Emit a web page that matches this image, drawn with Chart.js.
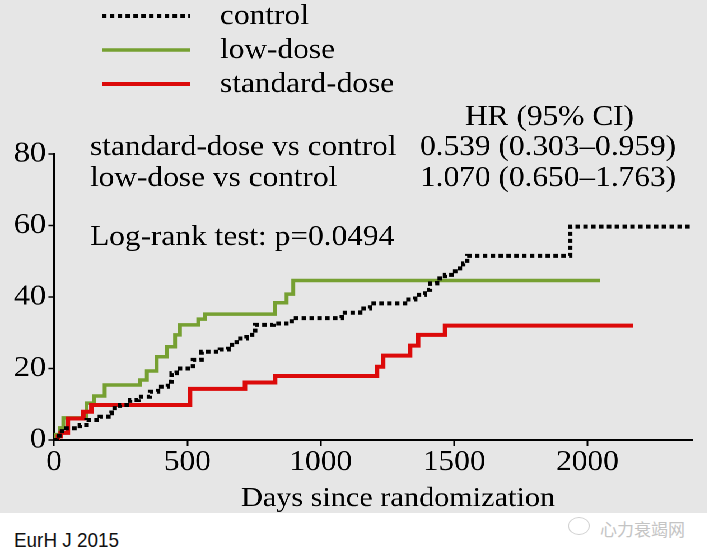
<!DOCTYPE html>
<html><head><meta charset="utf-8">
<script src="https://cdn.jsdelivr.net/npm/chart.js@4"></script>
<style>
html,body{margin:0;padding:0;background:#fff;}
#page{position:relative;width:707px;height:558px;overflow:hidden;background:#fff;}
#wrap{position:absolute;left:0;top:0;width:631.25px;height:513px;transform:scaleX(1.12);transform-origin:0 0;background:#e6e6e6;}
#src{position:absolute;left:14px;top:528px;font:21px "Liberation Sans",Arial,sans-serif;color:#111;transform:scaleX(0.9);transform-origin:0 0;}
#wm{position:absolute;left:600px;top:516px;font:17px "Noto Sans CJK SC",sans-serif;color:#c4c4c4;}
#wmi{position:absolute;left:568px;top:517px;width:20px;height:16px;border:1px solid #d0d0d0;border-radius:50%;}
</style></head>
<body>
<div id="page">
<div id="wrap"><canvas id="c"></canvas></div>
<div id="wmi"></div>
<div id="wm">心力衰竭网</div>
<div id="src">EurH J 2015</div>
</div>
<script>
// ---- data (days, cumulative %) ----
const controlDays = [0,10,30,97,122,172,204,216,247,285,316,360,390,427,441,460,521,553,622,654,685,722,754,822,891,1079,1148,1185,1316,1354,1391,1410,1436,1466,1504,1534,1549,1935,2392];
const controlVals = [0,1.2,3.3,4.2,5.6,6.5,7.5,8.9,9.8,11.2,12.1,13.5,14.9,16.3,18.7,20.0,22.4,24.7,25.3,26.6,28.4,29.4,32.2,32.6,34.1,35.6,36.8,38.2,39.3,40.6,42.0,43.8,45.2,46.2,48.0,49.4,51.5,59.7,59.7];
const lowDays = [0,5,22,35,122,150,190,322,348,385,423,454,472,541,566,829,872,897,2047];
const lowVals = [0,1.5,3.4,6.2,10.3,12.3,15.4,16.8,19.3,23.3,26.1,29.4,32.2,33.8,35.2,38.4,40.8,44.6,44.6];
const stdDays = [0,15,25,52,110,140,510,716,829,1211,1234,1335,1365,1466,2171];
const stdVals = [0,1,2,6,7.9,9.8,14.3,16.1,17.9,20.5,23.6,26.4,29.4,32.0,32.0];
const xTicks = [0,500,1000,1500,2000];
const yTicks = [0,20,40,60,80];
const seriesLabels = ['control','low-dose','standard-dose'];
const xTitle = 'Days since randomization';
const hrHeader = 'HR (95% CI)';
const hrRows = [['standard-dose vs control','0.539 (0.303\u20130.959)'],['low-dose vs control','1.070 (0.650\u20131.763)']];
const logRank = 'Log-rank test: p=0.0494';

const pts = (d,v)=>d.map((x,i)=>({x:x,y:v[i]}));
const K = 1.12;
const serif = "'Liberation Serif', 'Times New Roman', serif";

const extras = {
  id:'extras',
  afterDraw(chart){
    const ctx = chart.ctx;
    ctx.save();
    ctx.fillStyle = '#000';
    ctx.textBaseline = 'alphabetic';
    // legend
    const rows = [24,58,92];
    chart.data.datasets.forEach((ds,i)=>{
      const y = rows[i]-8;
      ctx.beginPath();
      ctx.strokeStyle = ds.borderColor;
      ctx.lineWidth = ds.borderWidth;
      ctx.setLineDash(ds.borderDash || []);
      ctx.moveTo(102/K,y); ctx.lineTo(190/K,y); ctx.stroke();
      ctx.setLineDash([]);
      ctx.font = '28px '+serif;
      ctx.fillStyle = '#000';
      ctx.textAlign = 'left';
      ctx.fillText(ds.label, 220/K, rows[i]);
    });
    // HR table
    ctx.font = '28px '+serif;
    ctx.fillText(hrHeader, 465/K, 125);
    ctx.fillText(hrRows[0][0], 90/K, 155);
    ctx.fillText(hrRows[0][1], 420/K, 155);
    ctx.fillText(hrRows[1][0], 90/K, 186);
    ctx.fillText(hrRows[1][1], 420/K, 186);
    ctx.fillText(logRank, 90/K, 245);
    // x title
    ctx.font = '27px '+serif;
    ctx.fillText(xTitle, 241/K, 506);
    ctx.restore();
  }
};

new Chart(document.getElementById('c'), {
  type:'line',
  data:{datasets:[
    {label:seriesLabels[0], data:pts(controlDays,controlVals), borderColor:'#000', borderWidth:4, borderDash:[4,3], order:0},
    {label:seriesLabels[1], data:pts(lowDays,lowVals), borderColor:'#76a032', borderWidth:3.5, order:2},
    {label:seriesLabels[2], data:pts(stdDays,stdVals), borderColor:'#dc0a0a', borderWidth:4, order:1}
  ].map(d=>Object.assign({stepped:'before', pointRadius:0, fill:false, tension:0, borderCapStyle:'butt'}, d))},
  options:{
    responsive:true, maintainAspectRatio:false, animation:false,
    devicePixelRatio:2,
    layout:{padding:{left:0,right:631.25-692/K,top:154,bottom:0}},
    plugins:{legend:{display:false}, tooltip:{enabled:false}},
    scales:{
      x:{type:'linear', min:0, max:2392,
        afterBuildTicks(s){ s.ticks = xTicks.map(v=>({value:v})); },
        afterFit(s){ s.height = 513-440; },
        grid:{drawOnChartArea:false, drawTicks:true, tickLength:6, tickColor:'#000', tickWidth:1.5},
        border:{color:'#000', width:2},
        ticks:{color:'#000', padding:0, font:{family:serif, size:28}, maxRotation:0, autoSkip:false, callback:v=>String(v)}
      },
      y:{type:'linear', min:0, max:80,
        afterBuildTicks(s){ s.ticks = yTicks.map(v=>({value:v})); },
        afterFit(s){ s.width = 54/K; },
        grid:{drawOnChartArea:false, drawTicks:true, tickLength:5, tickColor:'#000', tickWidth:1.5},
        border:{color:'#000', width:2},
        ticks:{color:'#000', padding:2, font:{family:serif, size:29}, callback:v=>String(v)}
      }
    }
  },
  plugins:[extras]
});
</script>
</body></html>
